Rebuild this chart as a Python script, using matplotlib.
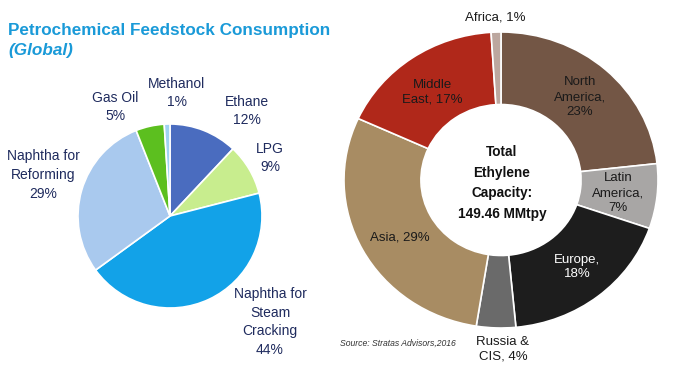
import matplotlib
matplotlib.use("Agg")
import matplotlib.pyplot as plt

plt.rcParams['font.family'] = ['Liberation Sans', 'DejaVu Sans']

# ---- data ----
feed_labels = ["Ethane\n12%", "LPG\n9%", "Naphtha for\nSteam\nCracking\n44%",
               "Naphtha for\nReforming\n29%", "Gas Oil\n5%", "Methanol\n1%"]
feed_values = [12, 9, 44, 29, 5, 1]

region_labels = ["North\nAmerica,\n23%", "Latin\nAmerica,\n7%", "Europe,\n18%",
                 "Russia &\nCIS, 4%", "Asia, 29%", "Middle\nEast, 17%", "Africa, 1%"]
region_values = [23, 7, 18, 4, 29, 17, 1]

title_main = "Petrochemical Feedstock Consumption"
title_sub = "(Global)"
center_text = "Total\nEthylene\nCapacity:\n149.46 MMtpy"
source_text = "Source: Stratas Advisors,2016"

# ---- styles ----
feed_colors = ["#4a6cbf", "#c8ed8e", "#12a2e8", "#a9c9ee", "#5cbf1f", "#9fd3f2"]
region_colors = ["#735645", "#a8a6a5", "#1d1d1d", "#6a6a6a", "#a88c63", "#b0281a", "#bca79f"]

W, H = 700, 379
fig = plt.figure(figsize=(W / 100, H / 100), dpi=100)
fig.patch.set_facecolor("white")


def px_axes(cx, cy, rx, ry):
    return fig.add_axes([(cx - rx) / W, 1 - (cy + ry) / H, 2 * rx / W, 2 * ry / H])


def ftext(px, py, s, **kw):
    fig.text(px / W, 1 - py / H, s, ha="center", va="center", **kw)


# ---- left pie ----
ax1 = px_axes(170, 216, 92, 92)
ax1.pie(feed_values, colors=feed_colors, startangle=90, counterclock=False,
        wedgeprops=dict(edgecolor="white", linewidth=1.2))
ax1.set_aspect("auto")
ax1.set_xlim(-1, 1)
ax1.set_ylim(-1, 1)
ax1.axis("off")

navy = "#1f2b5e"
feed_pos = [(247, 111), (270, 158), (270, 322), (43, 175), (115, 107), (177, 93)]
for (px, py), lab in zip(feed_pos, feed_labels):
    ftext(px, py, lab, fontsize=10, color=navy, linespacing=1.45)

fig.text(8 / W, 1 - 31 / H, title_main, fontsize=12.3, fontweight="bold",
         color="#1a9ad8", ha="left", va="center")
fig.text(8 / W, 1 - 50 / H, title_sub, fontsize=12.3, fontweight="bold",
         fontstyle="italic", color="#1a9ad8", ha="left", va="center")

# ---- right donut ----
ax2 = px_axes(501, 180, 157, 148)
ax2.pie(region_values, colors=region_colors, startangle=90, counterclock=False,
        wedgeprops=dict(width=0.49, edgecolor="white", linewidth=1.2))
ax2.set_aspect("auto")
ax2.set_xlim(-1, 1)
ax2.set_ylim(-1, 1)
ax2.axis("off")

region_pos = [(580, 97), (618, 193), (577, 267), (503, 349), (400, 238), (432, 92), (495, 17)]
region_text_colors = ["#1a1a1a", "#1a1a1a", "white", "#1a1a1a", "#1a1a1a", "#1a1a1a", "#1a1a1a"]
for (px, py), lab, c in zip(region_pos, region_labels, region_text_colors):
    ftext(px, py, lab, fontsize=9.5, color=c, linespacing=1.3)

ftext(502, 183, center_text, fontsize=9.8, fontweight="bold", color="#111111", linespacing=1.6)
ftext(398, 343, source_text, fontsize=6.2, fontstyle="italic", color="#333333")

fig.savefig("out.png", dpi=100, facecolor="white")
